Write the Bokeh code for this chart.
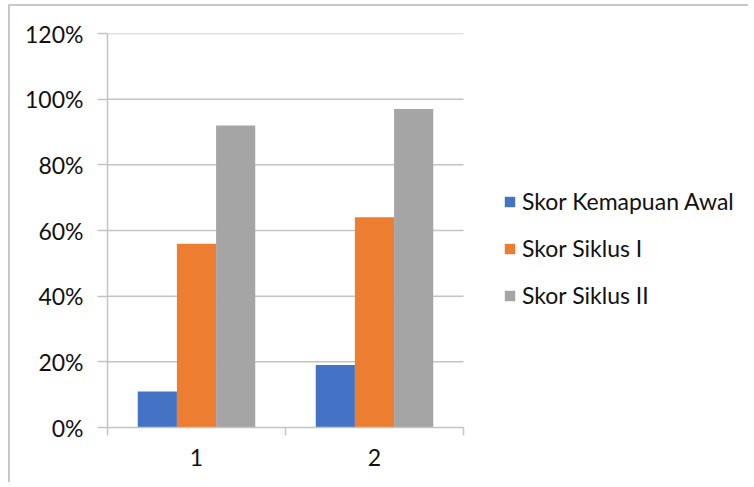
from bokeh.plotting import figure
from bokeh.models import Range1d, FixedTicker, NumeralTickFormatter, Legend, LegendItem, ColumnDataSource
from bokeh.embed import file_html
from bokeh.resources import INLINE

categories = ["1", "2"]
series_names = ["Skor Kemapuan Awal", "Skor Siklus I", "Skor Siklus II"]
awal = [0.11, 0.19]
siklus1 = [0.56, 0.64]
siklus2 = [0.92, 0.97]
colors = ["#4472C4", "#ED7D31", "#A5A5A5"]
y_ticks = [0, 0.2, 0.4, 0.6, 0.8, 1.0, 1.2]

FONT = "Lato"
FS = "23px"
TXT = "#111111"
GRID = "#C4C4C4"

W, H = 740, 478
BL, BT, BB, BR = 97, 27, 57, 14
n = len(categories)
frame_w = W - BL - BR
# the category area (0..n) occupies 356 px of the frame; the rest holds the legend
x_end = n * frame_w / 356.0

p = figure(width=W, height=H, output_backend="svg", toolbar_location=None,
           x_range=Range1d(0, x_end), y_range=Range1d(0, 1.2),
           min_border_left=BL, min_border_top=BT, min_border_bottom=BB, min_border_right=BR)
p.styles = {"border-top": "2px solid #C8C8C8", "border-left": "2px solid #C8C8C8",
            "margin-left": "8px", "margin-top": "4px"}
p.outline_line_color = None
p.outline_line_alpha = 0
p.border_fill_color = "white"
p.background_fill_color = "white"
p.xgrid.grid_line_color = None
p.ygrid.grid_line_color = None

# horizontal gridlines limited to the category area
p.segment(x0=0, x1=n, y0=y_ticks[1:], y1=y_ticks[1:], line_color=GRID, line_width=1.5)

width = 0.22
offsets = [-width, 0, width]
renderers = []
for vals, off, col in zip([awal, siklus1, siklus2], offsets, colors):
    xs = [i + 0.5 + off for i in range(n)]
    src = ColumnDataSource(dict(x=xs, top=vals))
    r = p.vbar(x="x", top="top", bottom=0, width=width, source=src, fill_color=col, line_color=None)
    renderers.append(r)

# y axis
ya = p.yaxis[0]
ya.ticker = FixedTicker(ticks=y_ticks)
ya.formatter = NumeralTickFormatter(format="0%")
ya.axis_line_color = GRID
ya.axis_line_width = 1.5
ya.major_tick_line_color = GRID
ya.major_tick_line_width = 1.5
ya.major_tick_out = 10
ya.major_tick_in = 0
ya.minor_tick_line_color = None
ya.major_label_standoff = 14
ya.major_label_text_font = FONT
ya.major_label_text_font_size = FS
ya.major_label_text_color = TXT

# x axis
xa = p.xaxis[0]
xa.bounds = (0, n)
xa.ticker = FixedTicker(ticks=[i + 0.5 for i in range(n)], minor_ticks=list(range(n + 1)))
xa.major_label_overrides = {i + 0.5: c for i, c in enumerate(categories)}
xa.axis_line_color = GRID
xa.axis_line_width = 1.5
xa.major_tick_line_color = None
xa.major_tick_out = 0
xa.major_tick_in = 0
xa.minor_tick_line_color = GRID
xa.minor_tick_line_width = 1.5
xa.minor_tick_out = 8
xa.minor_tick_in = 0
xa.major_label_standoff = 13
xa.major_label_text_font = FONT
xa.major_label_text_font_size = FS
xa.major_label_text_color = TXT

legend = Legend(items=[LegendItem(label=s, renderers=[r]) for s, r in zip(series_names, renderers)],
                location=(396, 118), glyph_width=13, glyph_height=13, label_height=22,
                spacing=19, padding=0, margin=0, label_standoff=6,
                label_text_font=FONT, label_text_font_size=FS, label_text_color=TXT,
                border_line_color=None, background_fill_alpha=0)
p.add_layout(legend, "center")

open("out.html", "w").write(file_html(p, INLINE))
